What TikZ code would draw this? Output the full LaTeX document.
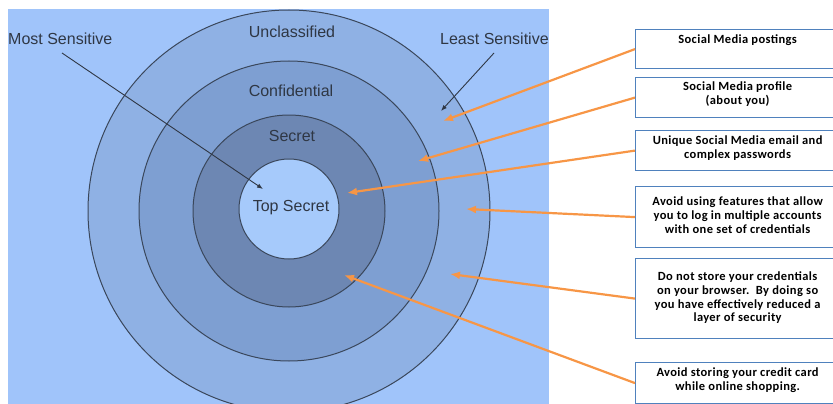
\documentclass[tikz,border=0pt]{standalone}
\usepackage{fontspec}
\setmainfont{Liberation Sans}
\newfontfamily\notefont[LetterSpace=3]{Carlito}
\usetikzlibrary{positioning,arrows.meta}
\definecolor{bgblue}{HTML}{A0C4FA}
\definecolor{ringA}{HTML}{8FB1E4}
\definecolor{ringB}{HTML}{7E9FD2}
\definecolor{ringC}{HTML}{6D87B3}
\definecolor{coreblue}{HTML}{A6CAFB}
\definecolor{ringline}{HTML}{3A475B}
\definecolor{labelgray}{HTML}{2F3744}
\definecolor{boxblue}{HTML}{4F81BD}
\definecolor{arrorange}{HTML}{F79646}

\begin{document}
\begin{tikzpicture}[x=1pt,y=-1pt,
    ring/.style={draw=ringline,line width=1pt},
    lvl/.style={text=labelgray,font=\fontsize{16}{18}\selectfont,inner sep=0pt},
    pointer/.style={-{Latex[length=6pt,width=4.5pt]},draw=labelgray,line width=.9pt},
    note/.style={draw=boxblue,line width=1.2pt,fill=white,minimum width=204pt,anchor=north west,inner sep=0pt},
    notetext/.style={font=\notefont\bfseries\fontsize{12.5}{13.6}\selectfont,align=center,inner sep=0pt},
    tip/.style={-{Latex[length=10pt,width=8pt]},draw=arrorange,line width=2.2pt}]
    \useasboundingbox (0,0) rectangle (833,404);

    % levels of classification
    \begin{scope}
        \clip (8,9) rectangle (549,404);
        \fill[bgblue] (8,9) rectangle (549,404);
        \draw[ring,fill=ringA] (289,211) circle[radius=201pt];
        \draw[ring,fill=ringB] (289,211) circle[radius=150pt];
        \draw[ring,fill=ringC] (289,211) circle[radius=96pt];
        \draw[ring,fill=coreblue] (289,209) circle[radius=50pt];

        \node[lvl] (unclass) at (292,32) {Unclassified};
        \node[lvl] (confid) at (291,91) {Confidential};
        \node[lvl] (secret) at (292,136) {Secret};
        \node[lvl] (topsec) at (291,208) {Top Secret};
        \node[lvl,anchor=west] (most) at (8,39) {Most Sensitive};
        \node[lvl,anchor=west] (least) at (440,39) {Least Sensitive};

        \coordinate (mostend) at (263,189);
        \coordinate (leastend) at (441,111);
        \draw[pointer] (62,53) -- (mostend);
        \draw[pointer] (494,53) -- (leastend);
    \end{scope}

    % advice boxes
    \node[note,minimum height=39pt] (b1) at (635,29) {};
    \node[note,minimum height=40pt] (b2) at (635,77) {};
    \node[note,minimum height=40pt] (b3) at (635,130) {};
    \node[note,minimum height=61pt] (b4) at (635,186) {};
    \node[note,minimum height=80pt] (b5) at (635,258) {};
    \node[note,minimum height=41pt] (b6) at (635,362) {};

    \node[notetext,below=6pt of b1.north] (t1) {Social Media postings};
    \node[notetext,below=5pt of b2.north] (t2) {Social Media profile\\(about you)};
    \node[notetext,below=6pt of b3.north] (t3) {Unique Social Media email and\\complex passwords};
    \node[notetext,below=11pt of b4.north] (t4) {Avoid using features that allow\\you to log in multiple accounts\\with one set of credentials};
    \node[notetext,below=14pt of b5.north] (t5) {Do not store your credentials\\on your browser.\ \ By doing so\\you have effectively\ reduced\ a\\layer of security};
    \node[notetext,below=6pt of b6.north] (t6) {Avoid storing your credit card\\while online shopping.};

    % where each advice applies
    \coordinate (p1) at (443,121);
    \coordinate (p2) at (418,161);
    \coordinate (p3) at (347,193);
    \coordinate (p4) at (466,209);
    \coordinate (p5) at (450,274);
    \coordinate (p6) at (344,275);
    \foreach \i in {1,...,6}
        \draw[tip] (b\i.west) -- (p\i);

\end{tikzpicture}
\end{document}
